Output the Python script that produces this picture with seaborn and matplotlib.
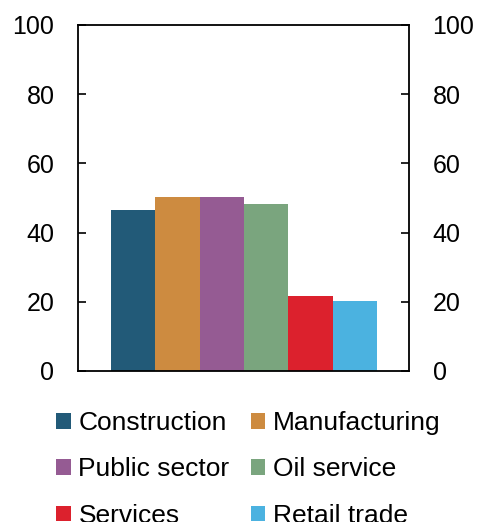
import matplotlib
matplotlib.use("Agg")
import matplotlib.pyplot as plt
import seaborn as sns
import pandas as pd

categories = ["Construction", "Manufacturing", "Public sector", "Oil service", "Services", "Retail trade"]
values = [46.5, 50.3, 50.3, 48.3, 21.6, 20.1]
colors = ["#225A78", "#CD8B40", "#955B93", "#7AA57E", "#DC212D", "#4BB2E0"]
yticks = [0, 20, 40, 60, 80, 100]

sns.set_theme(style="white")
plt.rcParams["font.family"] = ["Liberation Sans", "DejaVu Sans"]
plt.rcParams["text.color"] = "black"

df = pd.DataFrame({"cat": categories, "val": values})

fig = plt.figure(figsize=(4.81, 5.22), dpi=100)
ax = fig.add_axes([78/481, (522-371)/522, (409-78)/481, (371-25)/522])

sns.barplot(data=df, x="cat", y="val", hue="cat", hue_order=categories, order=categories,
            palette=colors, width=1.0, saturation=1, ax=ax, legend=True, linewidth=0)

ax.set_ylim(0, 100)
ax.set_xlim(-1.245, 6.22)
ax.set_yticks(yticks)
ax.set_yticklabels([str(t) for t in yticks])
ax.set_xticks([])
ax.set_xlabel("")
ax.set_ylabel("")
for s in ax.spines.values():
    s.set_visible(True)
    s.set_color("black")
    s.set_linewidth(1.3)
ax.tick_params(axis="y", which="both", left=True, right=True, labelleft=True, labelright=True,
               direction="in", length=6, width=1.2, color="black", labelsize=18, pad=17,
               labelcolor="black")

handles, labels = ax.get_legend_handles_labels()
old = ax.get_legend()
if old is not None:
    old.remove()
order = [0, 2, 4, 1, 3, 5]
leg = ax.legend([handles[i] for i in order], [labels[i] for i in order],
                loc="upper left", bbox_to_anchor=(56/481, (522-411)/522),
                bbox_transform=fig.transFigure, ncol=2, frameon=False,
                fontsize=19, handlelength=0.55, handleheight=0.55, handletextpad=0.3,
                columnspacing=0.8, labelspacing=0.85, borderpad=0, borderaxespad=0)
for t in leg.get_texts():
    t.set_color("black")

fig.savefig("out.png", dpi=100)
